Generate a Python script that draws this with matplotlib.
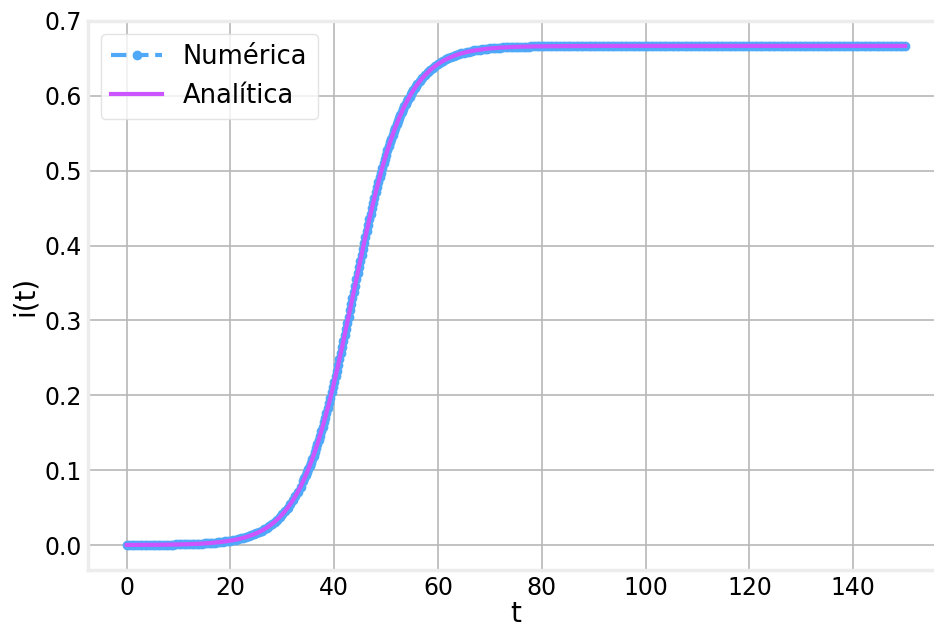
import matplotlib.pyplot as plt
import numpy as np

# ---------------------------------------------------
# i(t): numerical vs analytical solution
# ---------------------------------------------------

# readings are denser where the curve is steep
t_a = np.arange(0, 34, 0.5)
t_b = np.arange(34, 56, 0.25)
t_c = np.arange(56, 80.5, 0.5)
t_d = np.arange(80.5, 150.5, 0.5)

i_a = [
    0.000109, 0.000120, 0.000133, 0.000147, 0.000162, 0.000179, 0.000198, 0.000219, 0.000242, 0.000268,
    0.000296, 0.000327, 0.000361, 0.000399, 0.000441, 0.000488, 0.000539, 0.000595, 0.000658, 0.000727,
    0.000803, 0.000888, 0.000981, 0.001084, 0.001198, 0.001324, 0.001462, 0.001615, 0.001785, 0.001972,
    0.002179, 0.002407, 0.002659, 0.002938, 0.003246, 0.003586, 0.003959, 0.004372, 0.004831, 0.005334,
    0.005890, 0.006504, 0.007180, 0.007926, 0.008748, 0.009655, 0.01065, 0.01175, 0.01297, 0.01430,
    0.01577, 0.01738, 0.01916, 0.02111, 0.02325, 0.02560, 0.02819, 0.03102, 0.03410, 0.03750,
    0.04118, 0.04523, 0.04964, 0.05442, 0.05963, 0.06529, 0.07143, 0.07806,
]
i_b = [
    0.08522, 0.08901, 0.09293, 0.09700, 0.1012, 0.1056, 0.1101, 0.1148,
    0.1196, 0.1246, 0.1297, 0.1350, 0.1405, 0.1461, 0.1519, 0.1579,
    0.1640, 0.1702, 0.1767, 0.1832, 0.1899, 0.1968, 0.2038, 0.2110,
    0.2182, 0.2256, 0.2331, 0.2408, 0.2485, 0.2563, 0.2642, 0.2723,
    0.2804, 0.2885, 0.2967, 0.3050, 0.3133, 0.3216, 0.3299, 0.3383,
    0.3466, 0.3549, 0.3632, 0.3715, 0.3797, 0.3878, 0.3959, 0.4039,
    0.4118, 0.4196, 0.4273, 0.4350, 0.4425, 0.4498, 0.4571, 0.4642,
    0.4712, 0.4780, 0.4847, 0.4913, 0.4976, 0.5039, 0.5099, 0.5159,
    0.5216, 0.5272, 0.5326, 0.5379, 0.5430, 0.5480, 0.5528, 0.5574,
    0.5619, 0.5663, 0.5705, 0.5745, 0.5784, 0.5822, 0.5858, 0.5893,
    0.5926, 0.5959, 0.5990, 0.6019, 0.6048, 0.6076, 0.6102, 0.6127,
]
i_c = [
    0.6152, 0.6197, 0.6239, 0.6277, 0.6312, 0.6345, 0.6374, 0.6401, 0.6425, 0.6447,
    0.6468, 0.6486, 0.6503, 0.6518, 0.6532, 0.6545, 0.6556, 0.6567, 0.6576, 0.6585,
    0.6592, 0.6599, 0.6606, 0.6611, 0.6617, 0.6621, 0.6626, 0.6630, 0.6633, 0.6636,
    0.6639, 0.6642, 0.6644, 0.6646, 0.6648, 0.6650, 0.6652, 0.6653, 0.6655, 0.6656,
    0.6657, 0.6658, 0.6659, 0.6659, 0.6660, 0.6661, 0.6661, 0.6662, 0.6662,
]
i_d = [
    0.6662, 0.6663, 0.6663, 0.6663, 0.6664, 0.6664, 0.6664, 0.6665, 0.6665, 0.6665,
    0.6665, 0.6665, 0.6666, 0.6666, 0.6666, 0.6666, 0.6666, 0.6666, 0.6666, 0.6666,
    0.6667, 0.6667, 0.6667, 0.6667, 0.6667, 0.6667, 0.6667, 0.6667, 0.6667, 0.6667,
    0.6667, 0.6667, 0.6667, 0.6667, 0.6667, 0.6667, 0.6667, 0.6667, 0.6667, 0.6667,
    0.6667, 0.6667, 0.6667, 0.6667, 0.6667, 0.6667, 0.6667, 0.6667, 0.6667, 0.6667,
    0.6667, 0.6667, 0.6667, 0.6667, 0.6667, 0.6667, 0.6667, 0.6667, 0.6667, 0.6667,
    0.6667, 0.6667, 0.6667, 0.6667, 0.6667, 0.6667, 0.6667, 0.6667, 0.6667, 0.6667,
    0.6667, 0.6667, 0.6667, 0.6667, 0.6667, 0.6667, 0.6667, 0.6667, 0.6667, 0.6667,
    0.6667, 0.6667, 0.6667, 0.6667, 0.6667, 0.6667, 0.6667, 0.6667, 0.6667, 0.6667,
    0.6667, 0.6667, 0.6667, 0.6667, 0.6667, 0.6667, 0.6667, 0.6667, 0.6667, 0.6667,
    0.6667, 0.6667, 0.6667, 0.6667, 0.6667, 0.6667, 0.6667, 0.6667, 0.6667, 0.6667,
    0.6667, 0.6667, 0.6667, 0.6667, 0.6667, 0.6667, 0.6667, 0.6667, 0.6667, 0.6667,
    0.6667, 0.6667, 0.6667, 0.6667, 0.6667, 0.6667, 0.6667, 0.6667, 0.6667, 0.6667,
    0.6667, 0.6667, 0.6667, 0.6667, 0.6667, 0.6667, 0.6667, 0.6667, 0.6667, 0.6667,
]

t = np.concatenate([t_a, t_b, t_c, t_d])
i_numerica = np.concatenate([i_a, i_b, i_c, i_d])
# both curves sit on top of each other in the picture
i_analitica = i_numerica.copy()

fig = plt.figure(figsize=(9.34, 6.28), dpi=100)
ax = fig.add_axes([0.094, 0.0924, 0.9167, 0.8742])

ax.plot(t, i_numerica, '--', marker='o', color='#4fa8f8', lw=3, markersize=6,
        label='Numérica')
ax.plot(t, i_analitica, '-', color='#cc55ff', lw=3, label='Analítica')

ax.set_xlim(-7.5, 157.5)
ax.set_ylim(-0.0333, 0.7)
ax.set_xticks([0, 20, 40, 60, 80, 100, 120, 140])
ax.set_yticks([0.0, 0.1, 0.2, 0.3, 0.4, 0.5, 0.6, 0.7])
ax.tick_params(length=0, labelsize=17)
ax.tick_params(axis='x', pad=4)
ax.tick_params(axis='y', pad=4)
ax.set_xlabel('t', fontsize=20, labelpad=0)
ax.set_ylabel('i(t)', fontsize=20, labelpad=4)

ax.grid(True, color='#b8b8b8', lw=1.2)
ax.set_axisbelow(True)
for s in ax.spines.values():
    s.set_color('#ececec')
    s.set_linewidth(2.5)

leg = ax.legend(loc='upper left', fontsize=18.5, framealpha=0.8)
leg.get_frame().set_edgecolor('#dddddd')

fig.savefig('out.png', dpi=100)
